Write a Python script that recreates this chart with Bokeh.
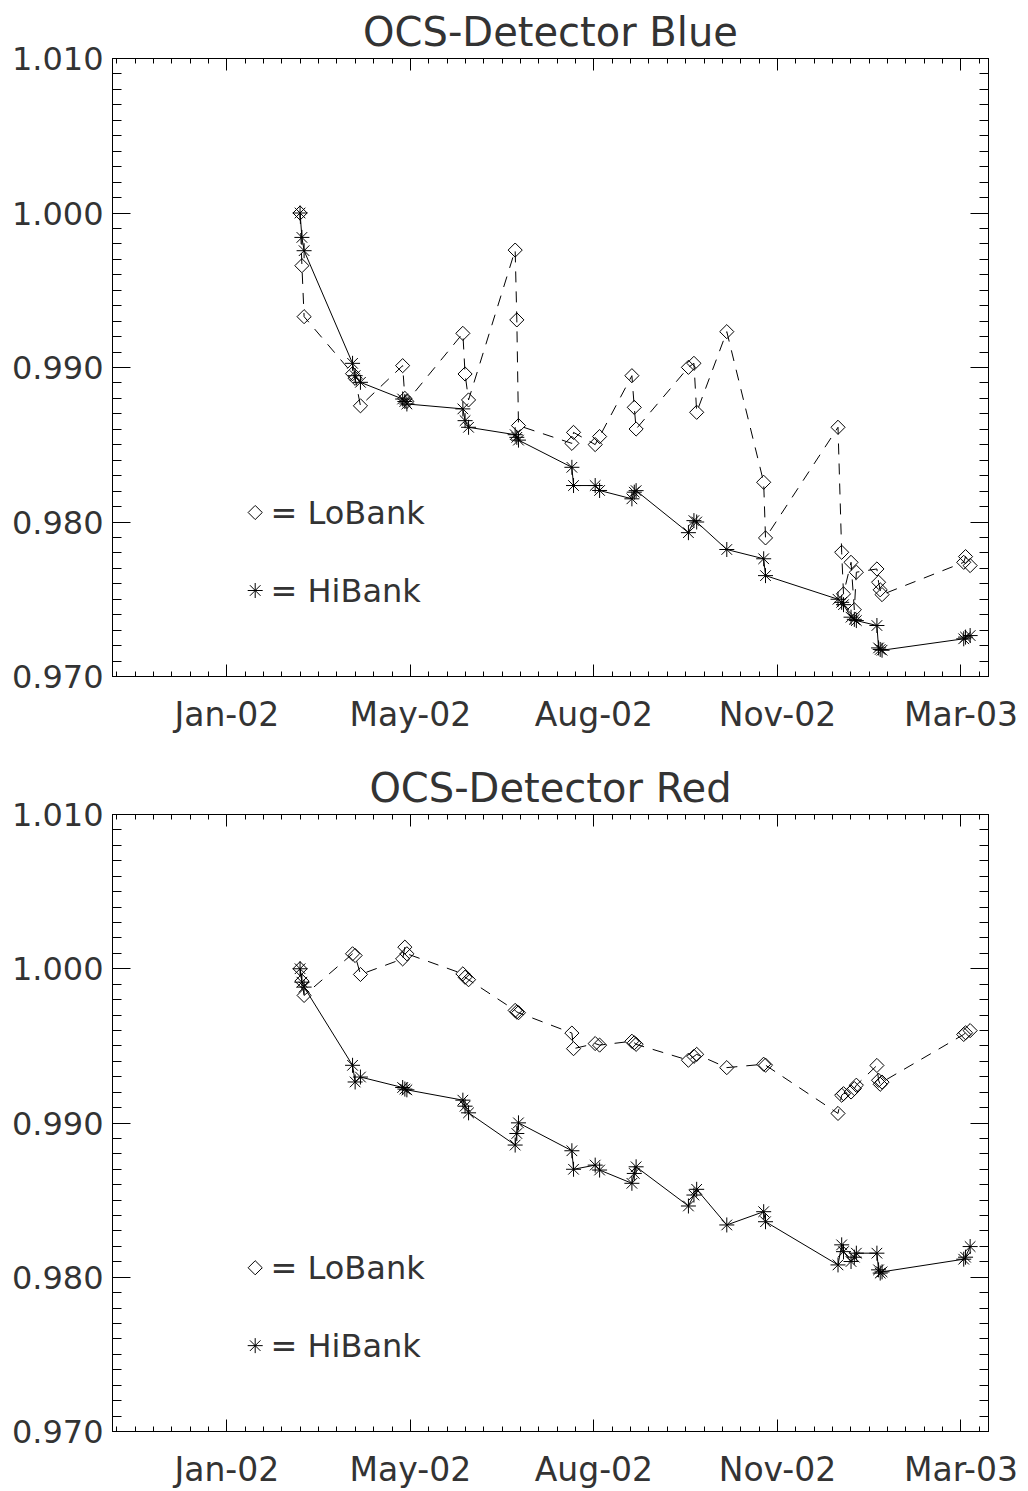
import numpy as np
from bokeh.plotting import figure
from bokeh.models import FixedTicker, LinearAxis, Range1d, NumeralTickFormatter
from bokeh.core.properties import value
from bokeh.layouts import column
from bokeh.embed import file_html
from bokeh.resources import INLINE

# ---------------- data ----------------
days = [39.9, 40.9, 42.1, 68.5, 69.9, 72.8, 95.8, 97.0, 98.1, 128.6, 129.8, 131.7,
        157.1, 158.0, 158.9, 188.0, 188.9, 200.7, 203.1, 220.7, 222.0, 223.0,
        251.5, 254.5, 256.0, 272.4, 292.5, 293.5, 333.0, 335.0, 336.0,
        340.1, 341.9, 343.0, 354.2, 355.1, 356.0, 357.0, 401.5, 402.5, 405.0]

blue_lo = [1.0000, 0.99659, 0.99329, 0.98960, 0.98930, 0.98752, 0.99012, 0.98800, 0.98780,
           0.99221, 0.98958, 0.98790, 0.99760, 0.99308, 0.98624, 0.98509, 0.98580,
           0.98501, 0.98553, 0.98947, 0.98742, 0.98602, 0.99001, 0.99027, 0.98710,
           0.99232, 0.98257, 0.97897, 0.98613, 0.97804, 0.97535, 0.97739, 0.97432,
           0.97675, 0.97696, 0.97610, 0.97561, 0.97530, 0.97739, 0.97776, 0.97718]
blue_hi = [1.0000, 0.99842, 0.99756, 0.99027, 0.98947, 0.98904, 0.98796, 0.98780, 0.98764,
           0.98732, 0.98656, 0.98613, 0.98565, 0.98548, 0.98530, 0.98354, 0.98236,
           0.98236, 0.98204, 0.98150, 0.98193, 0.98203, 0.97931, 0.98009, 0.98000,
           0.97822, 0.97762, 0.97653, 0.97500, 0.97480, 0.97465, 0.97384, 0.97370,
           0.97362, 0.97330, 0.97185, 0.97175, 0.97170, 0.97244, 0.97255, 0.97265]
red_lo = [1.0000, 0.99920, 0.99827, 1.00097, 1.00086, 0.99963, 1.00064, 1.00140, 1.00097,
          0.99967, 0.99945, 0.99929, 0.99730, 0.99720, 0.99715, 0.99583, 0.99482,
          0.99515, 0.99505, 0.99530, 0.99520, 0.99510, 0.99407, 0.99432, 0.99445,
          0.99359, 0.99381, 0.99375, 0.99062, 0.99180, 0.99190, 0.99201, 0.99223,
          0.99245, 0.99373, 0.99277, 0.99251, 0.99265, 0.99574, 0.99585, 0.99599]
red_hi = [1.0000, 0.99913, 0.99881, 0.99374, 0.99266, 0.99298, 0.99230, 0.99220, 0.99215,
          0.99148, 0.99109, 0.99066, 0.98857, 0.98932, 0.99001, 0.98820, 0.98700,
          0.98727, 0.98695, 0.98609, 0.98673, 0.98716, 0.98462, 0.98533, 0.98570,
          0.98339, 0.98425, 0.98360, 0.98080, 0.98210, 0.98166, 0.98102, 0.98130,
          0.98156, 0.98156, 0.98048, 0.98027, 0.98035, 0.98117, 0.98130, 0.98199]

x_tick_values = [0, 100, 200, 300, 400]
x_tick_labels = ["Jan-02", "May-02", "Aug-02", "Nov-02", "Mar-03"]
y_tick_values = [0.970, 0.980, 0.990, 1.000, 1.010]
titles = ["OCS-Detector Blue", "OCS-Detector Red"]
legend_labels = ["= LoBank", "= HiBank"]

# ---------------- style / layout ----------------
FONT = "DejaVu Sans"
TXT = "#333333"
X_RANGE = (-62.3, 415.0)
Y_RANGE = (0.970, 1.010)
FRAME_W, FRAME_H = 876, 618
LEFT, RIGHT, TOP = 112, 32, 58
KEY_X, KEY_TEXT_X = 142.7, 158.0
KEY_Y = [164, 86]


def x_ticker():
    return FixedTicker(ticks=x_tick_values, minor_ticks=list(range(-60, 420, 10)))


def y_ticker():
    return FixedTicker(ticks=y_tick_values,
                       minor_ticks=[round(0.970 + 0.001 * i, 3) for i in range(41)])


def style_axis(ax, major_len, minor_len):
    ax.major_tick_in = major_len
    ax.major_tick_out = 0
    ax.minor_tick_in = minor_len
    ax.minor_tick_out = 0
    ax.axis_line_color = "black"
    ax.major_tick_line_color = "black"
    ax.minor_tick_line_color = "black"
    ax.major_label_text_font = FONT
    ax.major_label_text_color = TXT


def make_panel(title, lo, hi, bottom_border):
    p = figure(width=LEFT + FRAME_W + RIGHT, height=TOP + FRAME_H + bottom_border,
               output_backend="svg", toolbar_location=None,
               x_range=Range1d(*X_RANGE), y_range=Range1d(*Y_RANGE),
               min_border_left=LEFT, min_border_right=RIGHT, min_border_top=TOP,
               min_border_bottom=bottom_border, title=title)
    p.extra_x_ranges = {"px": Range1d(0, FRAME_W)}
    p.extra_y_ranges = {"px": Range1d(0, FRAME_H)}
    p.grid.visible = False
    p.outline_line_color = "black"
    p.background_fill_color = "white"
    p.border_fill_color = "white"
    p.title.align = "center"
    p.title.text_font = FONT
    p.title.text_font_size = "40px"
    p.title.text_font_style = "normal"
    p.title.text_color = TXT
    p.title.standoff = 8

    xb = p.xaxis[0]
    xb.ticker = x_ticker()
    xb.major_label_overrides = dict(zip(x_tick_values, x_tick_labels))
    style_axis(xb, 12, 5)
    xb.major_label_text_font_size = "33px"
    xb.major_label_standoff = 18

    yl = p.yaxis[0]
    yl.ticker = y_ticker()
    yl.formatter = NumeralTickFormatter(format="0.000")
    style_axis(yl, 18, 9)
    yl.major_label_text_font_size = "32px"
    yl.major_label_standoff = 9

    xt = LinearAxis(ticker=x_ticker(), major_label_text_font_size="0px")
    xt.major_label_overrides = {v: "" for v in x_tick_values}
    style_axis(xt, 12, 5)
    xt.major_label_standoff = 0
    p.add_layout(xt, "above")
    yr = LinearAxis(ticker=y_ticker(), major_label_text_font_size="0px")
    yr.major_label_overrides = {v: "" for v in y_tick_values}
    style_axis(yr, 18, 9)
    yr.major_label_standoff = 0
    p.add_layout(yr, "right")

    p.line(days, lo, line_color="black", line_width=1, line_dash="11 9")
    p.line(days, hi, line_color="black", line_width=1)
    p.scatter(days, lo, marker="square", angle=np.pi / 4, size=10,
              fill_alpha=0, line_color="black", line_width=1)
    p.scatter(days, hi, marker="asterisk", size=15, line_color="black", line_width=1)

    # legend key
    p.scatter([KEY_X], [KEY_Y[0]], x_range_name="px", y_range_name="px",
              marker="square", angle=np.pi / 4, size=10, fill_alpha=0,
              line_color="black", line_width=1)
    p.scatter([KEY_X], [KEY_Y[1]], x_range_name="px", y_range_name="px",
              marker="asterisk", size=15, line_color="black", line_width=1)
    p.text([KEY_TEXT_X, KEY_TEXT_X], KEY_Y, text=legend_labels,
           x_range_name="px", y_range_name="px",
           text_font=value(FONT), text_font_size="32px", text_color=TXT,
           text_align="left", text_baseline="middle")
    return p


p1 = make_panel(titles[0], blue_lo, blue_hi, 80)
p2 = make_panel(titles[1], red_lo, red_hi, 59)
layout = column(p1, p2, spacing=0)

open("out.html", "w").write(file_html(layout, INLINE, title="OCS-Detector"))
